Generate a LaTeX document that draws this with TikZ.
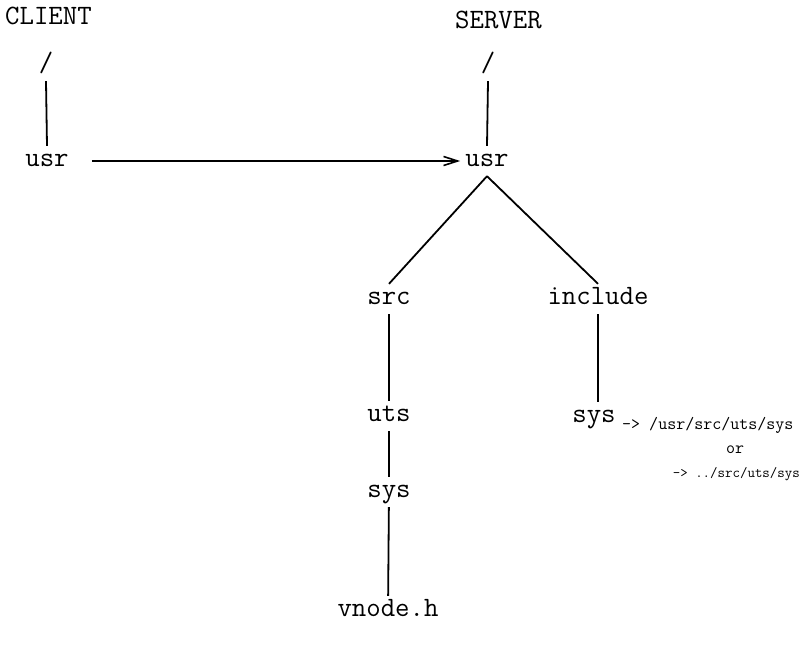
\documentclass[tikz,border=0pt]{standalone}
\usepackage{fontspec}
\usetikzlibrary{positioning, arrows.meta}
\tikzset{
    dir/.style={font=\ttfamily\fontsize{28}{32}\selectfont, inner xsep=2pt, inner ysep=0pt, text height=14pt, text depth=3pt, minimum height=30pt},
    title/.style={font=\ttfamily\fontsize{28}{32}\selectfont, inner sep=0pt},
    note/.style={font=\ttfamily\fontsize{17.5}{20}\selectfont, inner sep=0pt},
    line/.style={draw, line width=1.8pt},
    arrow/.style={line width=1.8pt, -{Straight Barb[length=14pt, width=9pt, line width=1.6pt]}}
}

\begin{document}
\begin{tikzpicture}[x=1pt, y=-1pt]
    \useasboundingbox (0,0) rectangle (802,651);
    % Titles
    \node [title, anchor=base west] (client) at (5,24) {CLIENT};
    \node [title, anchor=base west] (server) at (455,28) {SERVER};

    % Client tree
    \node [dir] (croot) at (46,66) {/};
    \node [dir] (cusr) at (47,161) {usr};

    % Server tree
    \node [dir] (sroot) at (488,66) {/};
    \node [dir] (susr) at (487,161) {usr};
    \node [dir] (src) at (389,299) {src};
    \node [dir] (inc) at (598,299) {include};
    \node [dir] (uts) at (389,416) {uts};
    \node [dir] (ssys) at (594,417) {sys};
    \node [dir] (usys) at (389,492) {sys};
    \node [dir] (vnode) at (388,611) {vnode.h};

    % Link target
    \node [note, anchor=base west] (note1) at (622,429) {-> /usr/src/uts/sys};
    \node [note, anchor=base] (note2) at (735,453) {or};
    \node [note, font=\ttfamily\fontsize{14.5}{17}\selectfont, anchor=base east] (note3) at (800,477) {-> ../src/uts/sys};

    % Connections
    \draw [line] (croot.south) -- (cusr.north);
    \draw [line] (sroot.south) -- (susr.north);
    \draw [arrow, shorten <=21pt, shorten >=3pt] (cusr) -- (susr);
    \draw [line] (susr.south) -- (src.north);
    \draw [line] (susr.south) -- (inc.north);
    \draw [line] (src) -- (uts);
    \draw [line] (uts) -- (usys);
    \draw [line] (usys) -- (vnode);
    \draw [line] (inc.south) -- (inc.south |- ssys.north);
\end{tikzpicture}
\end{document}
